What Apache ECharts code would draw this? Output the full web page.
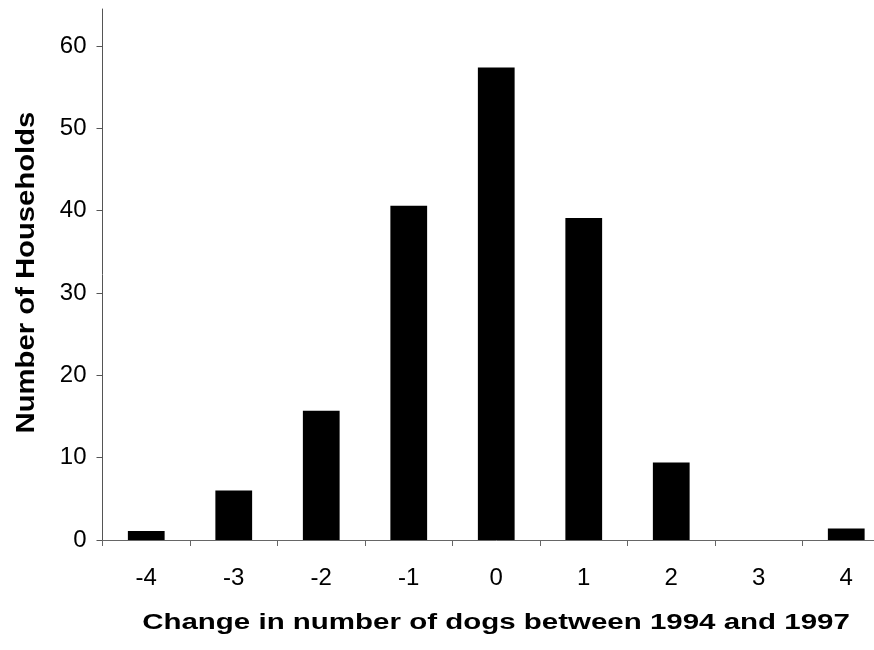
<!DOCTYPE html>
<html>
<head>
<meta charset="utf-8">
<script src="https://cdn.jsdelivr.net/npm/echarts@6/dist/echarts.min.js"></script>
<style>
  html, body { margin: 0; padding: 0; background: #fff; overflow: hidden; }
  #chart { width: 890px; height: 650px; }
</style>
</head>
<body>
<div id="chart"></div>
<script>
const categories = ['-4', '-3', '-2', '-1', '0', '1', '2', '3', '4'];
const households = [1.1, 6.0, 15.7, 40.6, 57.4, 39.1, 9.4, 0, 1.4];
const yTickValues = [0, 10, 20, 30, 40, 50, 60];
const xTitle = 'Change in number of dogs between 1994 and 1997';
const yTitle = 'Number of Households';

const chart = echarts.init(document.getElementById('chart'), null, { renderer: 'canvas' });
const fontFamily = '"Liberation Sans", Arial, Helvetica, sans-serif';

chart.setOption({
  animation: false,
  backgroundColor: '#ffffff',
  grid: { left: 102.5, right: 0, top: 9, bottom: 110, containLabel: false, outerBoundsMode: 'none' },
  xAxis: {
    type: 'category',
    data: categories,
    boundaryGap: true,
    axisLine: { show: true, lineStyle: { color: '#666', width: 1 } },
    axisTick: { show: true, length: 6, lineStyle: { color: '#666', width: 1 } },
    axisLabel: { color: '#000', fontSize: 24, fontFamily: fontFamily, margin: 26 },
    splitLine: { show: false }
  },
  yAxis: {
    type: 'value',
    min: 0,
    max: 64.5,
    interval: 10,
    axisLine: { show: true, lineStyle: { color: '#555', width: 1 } },
    axisTick: { show: true, length: 6, customValues: yTickValues, lineStyle: { color: '#555', width: 1 } },
    axisLabel: { color: '#000', fontSize: 24, fontFamily: fontFamily, margin: 16, customValues: yTickValues },
    splitLine: { show: false }
  },
  series: [{
    type: 'bar',
    data: households,
    barWidth: '42%',
    itemStyle: { color: '#000' }
  }],
  graphic: [
    {
      type: 'text',
      x: 496, y: 623,
      scaleX: 1.34,
      style: {
        text: xTitle,
        fontSize: 22, fontWeight: 'bold', fontFamily: fontFamily,
        fill: '#000', align: 'center', verticalAlign: 'middle'
      }
    },
    {
      type: 'text',
      x: 27, y: 272.5,
      rotation: Math.PI / 2,
      scaleX: 1.17,
      style: {
        text: yTitle,
        fontSize: 25, fontWeight: 'bold', fontFamily: fontFamily,
        fill: '#000', align: 'center', verticalAlign: 'middle'
      }
    }
  ]
});
</script>
</body>
</html>
